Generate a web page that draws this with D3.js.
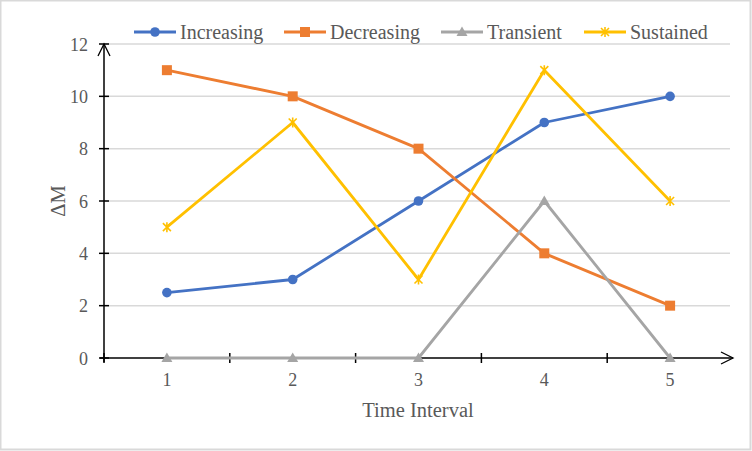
<!DOCTYPE html>
<html><head><meta charset="utf-8">
<script src="https://cdn.jsdelivr.net/npm/d3@7"></script>
<style>
html,body{margin:0;padding:0;background:#fff;}
svg{display:block;}
text{font-family:"Liberation Serif","Times New Roman",serif;fill:#595959;}
</style></head>
<body>
<svg id="chart" width="752" height="451"></svg>
<script>
const categories = ["1","2","3","4","5"];
const increasing = [2.5, 3, 6, 9, 10];
const decreasing = [11, 10, 8, 4, 2];
const transient = [0, 0, 0, 6, 0];
const sustained = [5, 9, 3, 11, 6];
const yTicks = [0, 2, 4, 6, 8, 10, 12];
const seriesNames = ["Increasing", "Decreasing", "Transient", "Sustained"];

(function () {
const FONT = '"Liberation Serif","Times New Roman",serif';
const series = [
  {name: seriesNames[0], values: increasing, color: "#4472C4", marker: "circle"},
  {name: seriesNames[1], values: decreasing, color: "#ED7D31", marker: "square"},
  {name: seriesNames[2], values: transient, color: "#A5A5A5", marker: "triangle"},
  {name: seriesNames[3], values: sustained, color: "#FFC000", marker: "star"}
];

const svg = d3.select("#chart");
const W = 752, H = 451;
svg.append("rect").attr("x", 0.5).attr("y", 0.5).attr("width", W - 2).attr("height", H - 2)
  .attr("fill", "#fff").attr("stroke", "#d9d9d9").attr("stroke-width", 2);

const pL = 104, pR = 733, pT = 44, pB = 358;
const x = d3.scaleBand().domain(categories).range([pL, pR]);
const y = d3.scaleLinear().domain([0, 12]).range([pB, pT]);
const cx = d => x(d) + x.bandwidth() / 2;

// gridlines
svg.append("g").selectAll("line").data(yTicks.filter(t => t > 0)).join("line")
  .attr("x1", pL).attr("x2", 730)
  .attr("y1", d => y(d)).attr("y2", d => y(d))
  .attr("stroke", "#d9d9d9").attr("stroke-width", 1.5);

// y axis
const yAxis = d3.axisLeft(y).tickValues(yTicks).tickSize(0).tickPadding(16);
const gy = svg.append("g").attr("transform", `translate(${pL},0)`).call(yAxis)
  .attr("font-family", FONT).attr("font-size", 18);
gy.select(".domain").remove();
gy.selectAll("text").attr("fill", "#595959").attr("dy", "0.34em");
svg.append("g").selectAll("line").data(yTicks).join("line")
  .attr("x1", pL - 5).attr("x2", pL + 5)
  .attr("y1", d => y(d)).attr("y2", d => y(d))
  .attr("stroke", "#000").attr("stroke-width", 1.5);
svg.append("line").attr("x1", pL).attr("x2", pL).attr("y1", pB + 4).attr("y2", pT)
  .attr("stroke", "#000").attr("stroke-width", 1.5);
svg.append("path").attr("d", `M${pL - 6},${pT + 12}L${pL},${pT}L${pL + 6},${pT + 12}`)
  .attr("fill", "none").attr("stroke", "#000").attr("stroke-width", 1.3);

// x axis
const xAxis = d3.axisBottom(x).tickSize(0).tickPadding(15);
const gx = svg.append("g").attr("transform", `translate(0,${pB})`).call(xAxis)
  .attr("font-family", FONT).attr("font-size", 18);
gx.select(".domain").remove();
gx.selectAll("text").attr("fill", "#595959");
const bounds = categories.map(c => x(c));
svg.append("g").selectAll("line").data(bounds).join("line")
  .attr("x1", d => d).attr("x2", d => d)
  .attr("y1", pB - 5).attr("y2", pB + 5)
  .attr("stroke", "#000").attr("stroke-width", 1.5);
svg.append("line").attr("x1", pL - 4).attr("x2", pR).attr("y1", pB).attr("y2", pB)
  .attr("stroke", "#000").attr("stroke-width", 1.5);
svg.append("path").attr("d", `M${pR - 12},${pB - 6}L${pR},${pB}L${pR - 12},${pB + 6}`)
  .attr("fill", "none").attr("stroke", "#000").attr("stroke-width", 1.3);

// axis titles
svg.append("text").attr("x", 418).attr("y", 417).attr("text-anchor", "middle")
  .style("font-size", "20.5px").text("Time Interval");
svg.append("text").attr("transform", `translate(65,${(pT + pB) / 2}) rotate(-90)`)
  .attr("text-anchor", "middle").style("font-size", "20.5px").text("ΔM");

function drawMarker(g, type, color, px, py) {
  if (type === "circle") {
    g.append("circle").attr("cx", px).attr("cy", py).attr("r", 4.8).attr("fill", color);
  } else if (type === "square") {
    g.append("rect").attr("x", px - 5).attr("y", py - 5).attr("width", 10).attr("height", 10).attr("fill", color);
  } else if (type === "triangle") {
    g.append("path").attr("d", `M${px},${py - 5.5}L${px + 5.5},${py + 4}L${px - 5.5},${py + 4}Z`).attr("fill", color);
  } else if (type === "star") {
    g.append("path").attr("d", `M${px - 4},${py - 4}L${px + 4},${py + 4}M${px - 4},${py + 4}L${px + 4},${py - 4}M${px},${py - 5}L${px},${py + 5}`)
      .attr("stroke", color).attr("stroke-width", 1.6).attr("fill", "none");
  }
}

const line = d3.line().x((d, i) => cx(categories[i])).y(d => y(d));
series.forEach(s => {
  const g = svg.append("g");
  g.append("path").datum(s.values).attr("d", line).attr("fill", "none")
    .attr("stroke", s.color).attr("stroke-width", 2.8).attr("stroke-linejoin", "round");
  s.values.forEach((v, i) => drawMarker(g, s.marker, s.color, cx(categories[i]), y(v)));
});

// legend
const legendX = [134, 284, 441, 584];
series.forEach((s, i) => {
  const g = svg.append("g");
  const lx = legendX[i], ly = 32;
  g.append("line").attr("x1", lx).attr("x2", lx + 42).attr("y1", ly).attr("y2", ly)
    .attr("stroke", s.color).attr("stroke-width", 2.8);
  drawMarker(g, s.marker, s.color, lx + 21, ly);
  g.append("text").attr("x", lx + 46).attr("y", ly + 7).style("font-size", "20px").text(s.name);
});
})();
</script>
</body></html>
